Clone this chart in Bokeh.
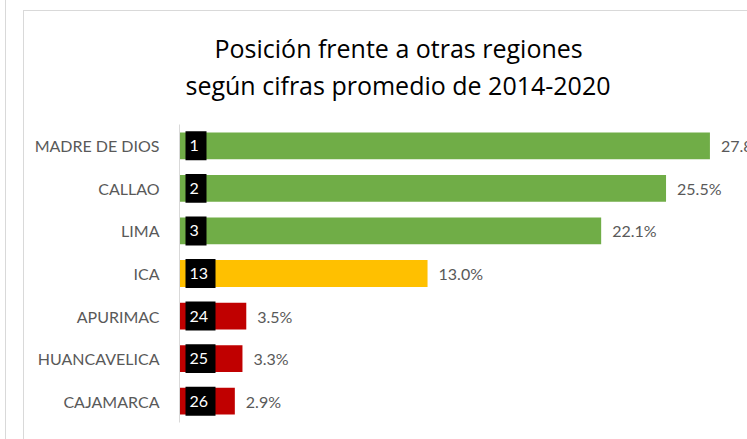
from bokeh.plotting import figure
from bokeh.models import ColumnDataSource, Range1d, FactorRange, Title
from bokeh.core.properties import value
from bokeh.embed import file_html
from bokeh.resources import INLINE

# ---- data ----
regions = ["MADRE DE DIOS", "CALLAO", "LIMA", "ICA", "APURIMAC", "HUANCAVELICA", "CAJAMARCA"]
values = [27.8, 25.5, 22.1, 13.0, 3.5, 3.3, 2.9]
ranks = ["1", "2", "3", "13", "24", "25", "26"]
value_labels = ["27.8%", "25.5%", "22.1%", "13.0%", "3.5%", "3.3%", "2.9%"]
title_lines = ["Posición frente a otras regiones", "según cifras promedio de 2014-2020"]

# ---- style ----
GREEN, YELLOW, RED = "#70ad47", "#ffc000", "#c00000"
def colour(r):
    r = int(r)
    return GREEN if r <= 3 else (YELLOW if r <= 15 else RED)
colors = [colour(r) for r in ranks]

W, H = 747, 439
LEFT, TOP, BOTTOM = 179, 124, 17
PX_PER_UNIT = 19.08
xmax = (W - LEFT) / PX_PER_UNIT
box_left = 6 / PX_PER_UNIT
box_w = [(21 if len(r) == 1 else 30) / PX_PER_UNIT for r in ranks]

src = ColumnDataSource(dict(
    region=regions, value=values, rank=ranks, vlabel=value_labels, color=colors,
    box_l=[box_left] * len(ranks), box_r=[box_left + w for w in box_w],
))

p = figure(width=W, height=H, output_backend="svg", toolbar_location=None,
           y_range=FactorRange(factors=list(reversed(regions)), range_padding=0),
           x_range=Range1d(0, xmax),
           min_border_left=LEFT, min_border_top=TOP, min_border_bottom=BOTTOM,
           min_border_right=0)
p.outline_line_color = None
p.background_fill_color = None
p.border_fill_color = None
p.styles = {
    "background-color": "white",
    "background-image": "linear-gradient(#d9d9d9,#d9d9d9), linear-gradient(#d9d9d9,#d9d9d9), linear-gradient(#d9d9d9,#d9d9d9)",
    "background-size": "1px 100%, 1px 100%, 100% 1px",
    "background-position": "5px 0px, 23px 10px, 23px 10px",
    "background-repeat": "no-repeat",
}
p.grid.visible = False
p.xaxis.visible = False

ya = p.yaxis[0]
ya.axis_line_color = "#d9d9d9"
ya.axis_line_width = 1
ya.major_tick_line_color = None
ya.minor_tick_line_color = None
ya.major_label_text_font = "Lato"
ya.major_label_text_font_size = "16px"
ya.major_label_text_color = "#595959"
ya.major_label_standoff = 14

p.hbar(y="region", left=0, right="value", height=0.63, source=src,
       fill_color="color", line_color=None)
p.hbar(y="region", left="box_l", right="box_r", height=0.68, source=src,
       fill_color="black", line_color=None)
p.text(x="box_l", y="region", text="rank", source=src, x_offset=4,
       text_font=value("Lato"), text_font_size="16px", text_color="white",
       text_baseline="middle", text_align="left")
p.text(x="value", y="region", text="vlabel", source=src, x_offset=11,
       text_font=value("Lato"), text_font_size="16px", text_color="#595959",
       text_baseline="middle", text_align="left")

# titles: spacer first (closest to frame), then line 2, then line 1
p.add_layout(Title(text=" ", text_font_size="9px"), "above")
for txt, off in zip(reversed(title_lines), [6, 35]):
    p.add_layout(Title(text=txt, align="left", offset=off, text_font="Open Sans",
                       text_font_size="25px", text_font_style="normal",
                       text_color="#000000", standoff=1), "above")

open("out.html", "w").write(file_html(p, INLINE))
